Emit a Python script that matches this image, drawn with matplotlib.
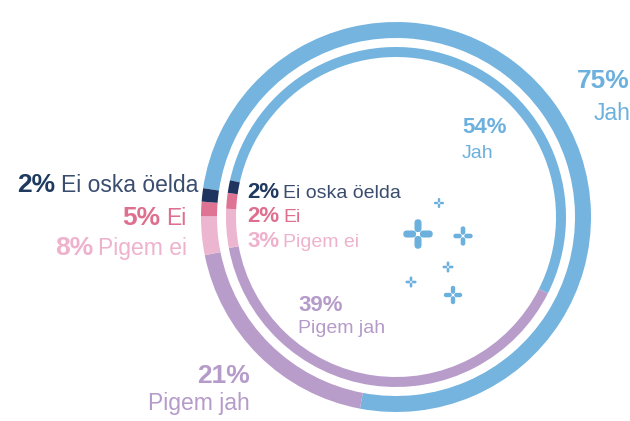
import matplotlib
matplotlib.use('Agg')
import matplotlib.pyplot as plt
from matplotlib.patches import FancyBboxPatch

# ---------------- data ----------------
categories = ['Jah', 'Pigem jah', 'Pigem ei', 'Ei', 'Ei oska öelda']
# arc sizes as drawn in the picture (share of the full circle, %)
outer_arc = [75.6, 18.9, 3.2, 1.2, 1.1]
inner_arc = [54.0, 39.7, 3.7, 1.5, 1.2]
# printed percentages
outer_pct = [75, 21, 8, 5, 2]
inner_pct = [54, 39, 3, 2, 2]

seg_colors = ['#74b4df', '#b89dcb', '#ecb5d0', '#de7393', '#1f3560']
pct_colors = ['#6cb0de', '#b59bc9', '#eeb2cc', '#df6f8f', '#1f3a5f']
name_colors = ['#6cb0de', '#b59bc9', '#eeb2cc', '#df6f8f', '#3a4d6e']

# decorative sparkles: x, y (px), size (px)
sparkles = [(439, 203, 11), (418, 234, 32), (463, 236, 21),
            (448, 267, 12), (411, 282, 12), (453, 295, 20)]

plt.rcParams['font.family'] = ['Liberation Sans', 'DejaVu Sans']

W, H = 630, 421
fig = plt.figure(figsize=(W / 100, H / 100), dpi=100)
ax = fig.add_axes([0, 0, 1, 1])

def Y(y):
    return H - y

CX, CY = 396, 217
ax.pie(outer_arc, colors=seg_colors, radius=195, center=(CX, Y(CY)),
       startangle=171.5, counterclock=False,
       wedgeprops=dict(width=16, linewidth=0))
ax.pie(inner_arc, colors=seg_colors, radius=170, center=(CX, Y(CY)),
       startangle=167.5, counterclock=False,
       wedgeprops=dict(width=10, linewidth=0))

# sparkles (four rounded petals around an empty centre)
for (sx, sy, s) in sparkles:
    L = 0.40 * s
    Wd = 0.22 * s
    g = 0.06 * s
    cy = Y(sy)
    rects = [(sx + g, cy - Wd / 2, L, Wd), (sx - g - L, cy - Wd / 2, L, Wd),
             (sx - Wd / 2, cy + g, Wd, L), (sx - Wd / 2, cy - g - L, Wd, L)]
    for (rx, ry, rw, rh) in rects:
        ax.add_patch(FancyBboxPatch((rx, ry), rw, rh,
                                    boxstyle=f'round,pad=0,rounding_size={Wd / 2}',
                                    facecolor='#6cb0de', edgecolor='none'))

ax.set_xlim(0, W)
ax.set_ylim(0, H)
ax.set_aspect('equal')
ax.axis('off')

renderer = fig.canvas.get_renderer()

def width_of(t):
    return t.get_window_extent(renderer=renderer).width

def inline_label(i, pct_list, x, y, psize, nsize, align):
    ptxt = f'{pct_list[i]}%'
    ntxt = categories[i]
    gap = 0.30 * nsize
    if align == 'left':
        tp = ax.text(x, Y(y), ptxt, ha='left', va='baseline', fontsize=psize,
                     fontweight='bold', color=pct_colors[i])
        wp = width_of(tp)
        ax.text(x + wp + gap, Y(y), ntxt, ha='left', va='baseline',
                fontsize=nsize, color=name_colors[i])
    else:
        tn = ax.text(x, Y(y), ntxt, ha='right', va='baseline', fontsize=nsize,
                     color=name_colors[i])
        wn = width_of(tn)
        ax.text(x - wn - gap, Y(y), ptxt, ha='right', va='baseline',
                fontsize=psize, fontweight='bold', color=pct_colors[i])

def stacked_label(i, pct_list, x, y1, y2, psize, nsize, align):
    ax.text(x, Y(y1), f'{pct_list[i]}%', ha=align, va='baseline', fontsize=psize,
            fontweight='bold', color=pct_colors[i])
    ax.text(x, Y(y2), categories[i], ha=align, va='baseline', fontsize=nsize,
            color=name_colors[i])

OP, ON = 19, 16.5   # outer percent / name sizes
IP, IN = 16, 14     # inner percent / name sizes

# outer ring labels
stacked_label(0, outer_pct, 630, 88, 120, OP, ON, 'right')
stacked_label(1, outer_pct, 250, 383, 410, OP, ON, 'right')
inline_label(4, outer_pct, 198, 192, OP, ON, 'right')
inline_label(3, outer_pct, 186, 225, OP, ON, 'right')
inline_label(2, outer_pct, 187, 255, OP, ON, 'right')

# inner ring labels
stacked_label(0, inner_pct, 462, 133, 158, IP, IN, 'left')
stacked_label(1, inner_pct, 298, 311, 333, IP, IN, 'left')
inline_label(4, inner_pct, 247, 198, IP, IN, 'left')
inline_label(3, inner_pct, 247, 222, IP, IN, 'left')
inline_label(2, inner_pct, 247, 247, IP, IN, 'left')

fig.savefig('out.png', dpi=100)
